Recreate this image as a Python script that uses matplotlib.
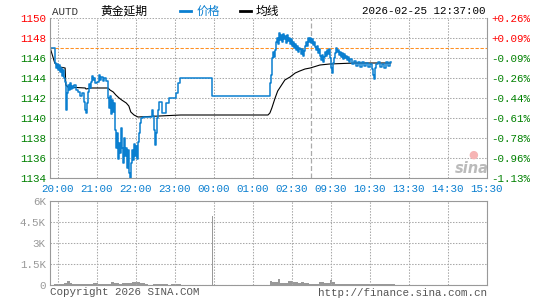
import matplotlib
matplotlib.use('Agg')
import matplotlib.pyplot as plt
from matplotlib.lines import Line2D

# minutes of trading day counted from 20:00 (night session ends at 390)
prev_close = 1147.0

price_min = [-12, -5, -3, -2, 0, 2, 3, 5, 6, 8, 9, 11, 12, 14, 15, 17, 18, 20, 22, 23,
             25, 28, 31, 34, 37, 40, 42, 43, 45, 46, 48, 49, 51, 52, 54, 55, 57, 60, 63, 65,
             66, 69, 71, 74, 77, 78, 80, 82, 83, 85, 86, 88, 89, 91, 92, 94, 95, 97, 98, 100,
             102, 103, 105, 106, 108, 109, 111, 112, 114, 115, 117, 118, 120, 122, 123, 125, 126, 128, 131, 145,
             146, 148, 149, 151, 152, 154, 155, 160, 166, 171, 182, 185, 188, 237,
             326, 328, 329, 331, 332, 334, 335, 337, 338, 340, 342, 343, 345, 346, 348, 349, 351, 352, 354, 355,
             357, 358, 360, 362, 363, 365, 366, 368, 369, 371, 372, 374, 375, 377, 378, 380, 382, 383, 385, 386,
             388, 389, 391, 392, 394, 395, 397, 398, 400, 402, 403, 405, 406, 408, 409, 411, 412, 414, 415, 417,
             418, 420, 422, 423, 425, 426, 428, 429, 431, 432, 434, 435, 437, 438, 440, 442, 443, 445, 446, 448,
             449, 452, 455, 458, 462, 465, 468, 471, 474, 477, 480, 483, 485, 486, 488, 489, 492, 495, 498, 502,
             505, 508, 511, 512]
price = [1147.0, 1145.5, 1145.0, 1145.4, 1144.8, 1145.3, 1144.6, 1145.0, 1144.2, 1144.8, 1144.0, 1143.6, 1140.8, 1142.5, 1143.3, 1142.8, 1143.5, 1142.9, 1143.2, 1143.0,
         1143.3, 1142.8, 1142.6, 1142.2, 1142.5, 1141.6, 1140.8, 1140.5, 1141.5, 1142.6, 1143.4, 1143.0, 1143.6, 1144.2, 1143.8, 1144.0, 1143.5, 1143.6, 1144.3, 1143.8,
         1144.1, 1143.7, 1144.0, 1143.7, 1142.0, 1141.0, 1142.2, 1140.4, 1141.8, 1140.6, 1141.5, 1138.8, 1137.0, 1138.5, 1135.9, 1137.5, 1136.5, 1139.0, 1137.0, 1135.5,
         1138.0, 1136.2, 1137.0, 1135.0, 1136.8, 1134.5, 1134.0, 1135.5, 1136.8, 1135.8, 1137.4, 1136.2, 1137.2, 1135.9, 1137.6, 1138.5, 1139.5, 1140.0, 1140.1, 1140.8,
         1140.2, 1138.8, 1137.3, 1138.5, 1140.0, 1140.8, 1141.6, 1140.5, 1141.5, 1142.0, 1142.5, 1143.5, 1144.0, 1142.2,
         1143.5, 1144.3, 1146.0, 1146.6, 1146.1, 1146.8, 1147.6, 1148.0, 1147.4, 1148.5, 1147.8, 1148.3, 1147.6, 1148.4, 1147.9, 1148.2, 1147.5, 1148.3, 1147.7, 1148.0,
         1147.4, 1147.9, 1147.2, 1147.6, 1147.0, 1147.4, 1146.8, 1147.2, 1146.6, 1147.0, 1146.9, 1146.4, 1146.9, 1146.2, 1146.7, 1147.2, 1147.6, 1147.2, 1148.0, 1147.6,
         1148.0, 1147.5, 1147.9, 1147.3, 1147.6, 1147.1, 1146.8, 1147.2, 1146.5, 1146.9, 1146.2, 1145.8, 1146.3, 1145.6, 1146.1, 1146.6, 1146.2, 1146.8, 1146.4, 1146.9,
         1146.0, 1145.0, 1144.5, 1145.5, 1146.0, 1146.5, 1147.0, 1146.6, 1146.8, 1146.3, 1146.6, 1146.1, 1146.5, 1145.9, 1146.4, 1146.0, 1146.2, 1145.8, 1146.1, 1145.6,
         1145.9, 1145.4, 1145.7, 1145.2, 1145.6, 1145.1, 1145.6, 1145.2, 1145.5, 1145.1, 1145.4, 1144.9, 1144.3, 1143.9, 1145.0, 1145.4, 1145.6, 1145.1, 1145.4, 1145.0,
         1145.6, 1145.2, 1145.6, 1145.6]

avg_min = [-12, -5, 0, 3, 11, 12, 15, 42, 43, 51, 77, 80, 85, 89, 94, 98, 105, 109, 112, 117,
           123, 189, 323, 326, 329, 334, 338, 342, 349, 357, 365, 372, 380, 388, 403, 418, 457, 512]
avg = [1147.0, 1145.5, 1145.2, 1145.1, 1145.0, 1143.3, 1143.1, 1143.0, 1142.9, 1143.0, 1143.0, 1142.8, 1142.6, 1142.3, 1142.0, 1141.8, 1141.5, 1141.2, 1140.6, 1140.3,
       1140.1, 1140.3, 1140.3, 1140.5, 1141.0, 1142.0, 1142.7, 1143.1, 1143.8, 1144.1, 1144.5, 1144.7, 1144.9, 1145.0, 1145.3, 1145.4, 1145.5, 1145.5]

night_vol_min = list(range(-6, 190, 4))
night_vol = [60, 70, 70, 80, 120, 310, 150, 90, 80, 100, 70, 90, 80, 100, 70, 120, 110, 70, 80, 70,
             60, 90, 180, 110, 130, 100, 140, 110, 120, 150, 210, 180, 200, 140, 120, 60, 0, 0, 60, 60,
             50, 60, 50, 60, 0, 50, 40, 50, 100]
spike_min = [237]
spike_vol = [4950]
day_vol_min = list(range(326, 515, 4))
day_vol = [310, 200, 250, 420, 150, 130, 140, 300, 260, 180, 220, 160, 200, 170, 140, 70, 60, 80, 60, 250,
           200, 140, 120, 330, 200, 100, 90, 100, 50, 45, 45, 45, 45, 45, 45, 45, 45, 45, 45, 45,
           45, 45, 45, 45, 45, 45, 45, 45]

tick_min = [0, 60, 120, 180, 240, 300, 360, 420, 480, 540, 600, 660]
tick_labels = ['20:00', '21:00', '22:00', '23:00', '00:00', '01:00', '02:30',
               '09:30', '10:30', '13:30', '14:30', '15:30']
price_ticks = [1134, 1136, 1138, 1140, 1142, 1144, 1146, 1148, 1150]
vol_ticks = [0, 1500, 3000, 4500, 6000]
vol_labels = ['0', '1.5K', '3K', '4.5K', '6K']

mono = 'Liberation Mono'
cjk = ['Noto Sans CJK SC', 'DejaVu Sans']
blue = '#0a7fd0'
gray = '#999999'
grid_kw = dict(color='#a8a8a8', linewidth=0.75, linestyle=(0, (1.4, 1.4)))

W, H = 540, 300
fig = plt.figure(figsize=(5.4, 3.0), dpi=100)
ax = fig.add_axes([50 / W, 1 - 178 / H, 437 / W, 160 / H])
axv = fig.add_axes([50 / W, 1 - 285 / H, 437 / W, 84 / H])

xmin, xmax = -12.3, 660

# price panel
ax.set_xlim(xmin, xmax)
ax.set_ylim(1134, 1150)
for t in tick_min:
    ax.axvline(t, **grid_kw)
for p in price_ticks:
    ax.axhline(p, **grid_kw)
ax.axvline(390, color='#aaaaaa', linewidth=0.9, linestyle=(0, (4, 2)))
ax.axhline(prev_close, color='#ff9022', linewidth=0.75, linestyle=(0, (3.2, 1.6)))
ax.plot(avg_min, avg, color='black', linewidth=0.8)
ax.plot(price_min, price, color=blue, linewidth=1.1, drawstyle='steps-post')

ax.set_xticks(tick_min)
ax.set_xticklabels(tick_labels, fontfamily=mono, fontsize=7.8, color=blue)
ax.set_yticks(price_ticks)
ax.set_yticklabels([str(p) for p in price_ticks], fontfamily=mono, fontsize=7.8)
for lab, p in zip(ax.get_yticklabels(), price_ticks):
    lab.set_color('#ff0000' if p > prev_close else '#008000')
ax.tick_params(length=0, pad=3)
ax.tick_params(axis='x', pad=4)
for s in ['left', 'right', 'bottom']:
    ax.spines[s].set_color(gray)
ax.spines['top'].set_visible(False)

axr = ax.twinx()
axr.set_ylim(1134, 1150)
axr.set_yticks(price_ticks)
axr.set_yticklabels(['%+.2f%%' % ((p / prev_close - 1) * 100) for p in price_ticks],
                    fontfamily=mono, fontsize=7.8)
for lab, p in zip(axr.get_yticklabels(), price_ticks):
    lab.set_color('#ff0000' if p > prev_close else '#008000')
axr.tick_params(length=0, pad=3)
for s in axr.spines.values():
    s.set_visible(False)

# volume panel
axv.set_xlim(xmin, xmax)
axv.set_ylim(0, 6000)
for t in tick_min:
    axv.axvline(t, **grid_kw)
for v in vol_ticks:
    axv.axhline(v, **grid_kw)
axv.bar(night_vol_min, night_vol, width=4, align='edge', color=gray, linewidth=0)
axv.bar(spike_min, spike_vol, width=1.2, align='edge', color=gray, linewidth=0)
axv.bar(day_vol_min, day_vol, width=4, align='edge', color=gray, linewidth=0)
axv.set_xticks([])
axv.set_yticks(vol_ticks)
axv.set_yticklabels(vol_labels, fontfamily=mono, fontsize=7.8, color=gray)
axv.tick_params(length=0, pad=3)
for s in axv.spines.values():
    s.set_color(gray)

# header
def px(x, y):
    return x / W, 1 - y / H

fig.text(*px(52, 12), 'AUTD', fontfamily=mono, fontsize=7.8, color='#333333', va='center')
fig.text(*px(100, 11), '黄金延期', fontfamily=cjk, fontsize=8.5, color='black', va='center')
fig.add_artist(Line2D([180 / W, 191 / W], [1 - 10.5 / H] * 2, color=blue, linewidth=2))
fig.text(*px(197, 11), '价格', fontfamily=cjk, fontsize=8.5, color=blue, va='center')
fig.add_artist(Line2D([240 / W, 251 / W], [1 - 10.5 / H] * 2, color='black', linewidth=2))
fig.text(*px(256, 11), '均线', fontfamily=cjk, fontsize=8.5, color='black', va='center')
fig.text(*px(486, 11), '2026-02-25 12:37:00', fontfamily=mono, fontsize=7.8, color='black',
         va='center', ha='right')

# footer
fig.text(*px(50, 292), 'Copyright 2026 SINA.COM', fontfamily=mono, fontsize=7.8, color='#555555', va='center')
fig.text(*px(487, 293), 'http://finance.sina.com.cn', fontfamily=mono, fontsize=7.8, color='#555555',
         va='center', ha='right')

# watermark
fig.text(*px(472, 168), 'sina', fontsize=10.5, fontweight='bold', fontstyle='italic', color='#bbbbbb',
         ha='center', va='center')
fig.text(*px(473, 155), '●', fontsize=8, color='#f6b4b4', ha='center', va='center')

fig.savefig('out.png', dpi=100)
